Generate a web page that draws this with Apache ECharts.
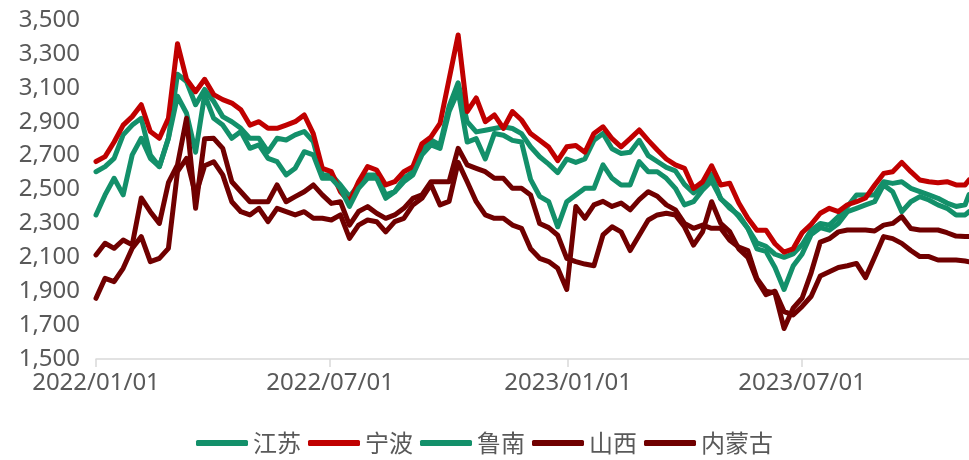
<!DOCTYPE html>
<html>
<head>
<meta charset="utf-8">
<title>价格走势</title>
<script src="https://cdn.jsdelivr.net/npm/echarts@6/dist/echarts.min.js"></script>
<style>
  html, body { margin: 0; padding: 0; background: #fff; }
  #chart { width: 969px; height: 460px; }
</style>
</head>
<body>
<div id="chart"></div>
<script>
// 周度日期（最后一个点为区间终点）
const dates = [
  '2022-01-01', '2022-01-08', '2022-01-15', '2022-01-22', '2022-01-29', '2022-02-05', '2022-02-12', '2022-02-19', '2022-02-26',
  '2022-03-05', '2022-03-12', '2022-03-19', '2022-03-26', '2022-04-02', '2022-04-09', '2022-04-16', '2022-04-23', '2022-04-30',
  '2022-05-07', '2022-05-14', '2022-05-21', '2022-05-28', '2022-06-04', '2022-06-11', '2022-06-18', '2022-06-25',
  '2022-07-02', '2022-07-09', '2022-07-16', '2022-07-23', '2022-07-30', '2022-08-06', '2022-08-13', '2022-08-20', '2022-08-27',
  '2022-09-03', '2022-09-10', '2022-09-17', '2022-09-24', '2022-10-01', '2022-10-08', '2022-10-15', '2022-10-22', '2022-10-29',
  '2022-11-05', '2022-11-12', '2022-11-19', '2022-11-26', '2022-12-03', '2022-12-10', '2022-12-17', '2022-12-24', '2022-12-31',
  '2023-01-07', '2023-01-14', '2023-01-21', '2023-01-28', '2023-02-04', '2023-02-11', '2023-02-18', '2023-02-25',
  '2023-03-04', '2023-03-11', '2023-03-18', '2023-03-25', '2023-04-01', '2023-04-08', '2023-04-15', '2023-04-22', '2023-04-29',
  '2023-05-06', '2023-05-13', '2023-05-20', '2023-05-27', '2023-06-03', '2023-06-10', '2023-06-17', '2023-06-24',
  '2023-07-01', '2023-07-08', '2023-07-15', '2023-07-22', '2023-07-29', '2023-08-05', '2023-08-12', '2023-08-19', '2023-08-26',
  '2023-09-02', '2023-09-09', '2023-09-16', '2023-09-23', '2023-09-30', '2023-10-07', '2023-10-14', '2023-10-21', '2023-10-28',
  '2023-11-04', '2023-11-07'
]

const jiangsu = [
  2605, 2635, 2684, 2822, 2880, 2920, 2704, 2635, 2802, 3180,
  3137, 3000, 3090, 3020, 2930, 2900, 2861, 2802, 2802, 2723,
  2802, 2792, 2822, 2842, 2783, 2586, 2586, 2527, 2458, 2527,
  2586, 2586, 2468, 2487, 2566, 2605, 2743, 2792, 2763, 2990,
  3130, 2900, 2840, 2850, 2860, 2870, 2860, 2830, 2752, 2693,
  2650, 2600, 2680, 2660, 2680, 2790, 2831, 2740, 2713, 2720,
  2790, 2700, 2665, 2630, 2610, 2530, 2480, 2520, 2590, 2445,
  2400, 2340, 2271, 2185, 2165, 2118, 2100, 2120, 2175, 2260,
  2300, 2290, 2340, 2400, 2468, 2468, 2468, 2546, 2536, 2546,
  2507, 2487, 2468, 2448, 2420, 2400, 2410, 2470
]

const ningbo = [
  2665, 2694, 2780, 2880, 2930, 3000, 2842, 2802, 2920, 3360,
  3150, 3077, 3150, 3060, 3030, 3010, 2970, 2880, 2900, 2861,
  2861, 2880, 2900, 2940, 2830, 2625, 2605, 2487, 2428, 2546,
  2635, 2615, 2527, 2546, 2605, 2635, 2770, 2810, 2890, 3150,
  3412, 2960, 3040, 2900, 2940, 2860, 2960, 2910, 2830, 2790,
  2750, 2670, 2752, 2760, 2720, 2831, 2870, 2800, 2752, 2800,
  2851, 2790, 2733, 2680, 2645, 2625, 2506, 2545, 2640, 2527,
  2537, 2420, 2330, 2260, 2260, 2180, 2130, 2150, 2245, 2295,
  2360, 2389, 2370, 2410, 2428, 2450, 2525, 2595, 2605, 2660,
  2605, 2556, 2546, 2540, 2546, 2527, 2527, 2556
]

const lunan = [
  2350, 2468, 2566, 2468, 2704, 2802, 2684, 2635, 2802, 3050,
  2950, 2720, 3058, 2920, 2880, 2802, 2842, 2743, 2763, 2684,
  2664, 2586, 2625, 2723, 2704, 2566, 2566, 2507, 2400, 2507,
  2566, 2566, 2448, 2487, 2546, 2586, 2704, 2763, 2743, 2960,
  3080, 2780, 2800, 2680, 2830, 2820, 2790, 2780, 2560, 2460,
  2428, 2280, 2428, 2468, 2507, 2507, 2645, 2566, 2527, 2527,
  2664, 2605, 2605, 2566, 2507, 2409, 2428, 2497, 2550, 2448,
  2389, 2350, 2271, 2150, 2135, 2040, 1910, 2048, 2120, 2235,
  2275, 2260, 2300, 2369, 2389, 2409, 2428, 2527, 2487, 2369,
  2428, 2458, 2438, 2409, 2389, 2350, 2350, 2369
]

const shanxi = [
  2114, 2183, 2153, 2202, 2173, 2450, 2369, 2300, 2540, 2645,
  2920, 2389, 2800, 2802, 2743, 2546, 2487, 2428, 2428, 2428,
  2527, 2428, 2458, 2487, 2527, 2468, 2418, 2428, 2290, 2370,
  2399, 2360, 2330, 2350, 2389, 2448, 2468, 2546, 2546, 2546,
  2743, 2645, 2625, 2605, 2566, 2566, 2507, 2507, 2468, 2300,
  2275, 2230, 2094, 2075, 2060, 2050, 2232, 2280, 2250, 2140,
  2230, 2320, 2350, 2360, 2350, 2280, 2172, 2250, 2428, 2300,
  2252, 2150, 2100, 1966, 1880, 1900, 1780, 1760, 1810, 1870,
  1990, 2015, 2040, 2050, 2064, 1980, 2100, 2222, 2210, 2182,
  2140, 2104, 2104, 2084, 2084, 2084, 2078, 2074
]

const neimenggu = [
  1858, 1976, 1956, 2035, 2153, 2222, 2074, 2094, 2153, 2605,
  2684, 2468, 2640, 2664, 2586, 2428, 2369, 2350, 2389, 2310,
  2389, 2369, 2350, 2369, 2330, 2330, 2320, 2350, 2212, 2290,
  2320, 2310, 2250, 2310, 2330, 2409, 2448, 2530, 2409, 2430,
  2660, 2546, 2428, 2350, 2330, 2330, 2290, 2271, 2150, 2094,
  2075, 2035, 1910, 2400, 2330, 2409, 2430, 2400, 2420, 2380,
  2440, 2487, 2460, 2409, 2380, 2300, 2271, 2290, 2271, 2271,
  2200, 2160, 2140, 1975, 1900, 1890, 1680, 1800, 1860, 2010,
  2190, 2210, 2250, 2261, 2261, 2261, 2255, 2290, 2300, 2340,
  2270, 2261, 2261, 2261, 2245, 2225, 2222, 2222
]

// 横轴刻度标签
const xTicks = ['2022-01-01', '2022-07-01', '2023-01-01', '2023-07-01']

const seriesNames = ['江苏', '宁波', '鲁南', '山西', '内蒙古']
const seriesValues = [jiangsu, ningbo, lunan, shanxi, neimenggu]
const seriesColors = ['#13906A', '#C00000', '#13906A', '#700000', '#700000']

const font = "'Noto Sans', 'Noto Sans CJK SC', sans-serif"
const pad = n => (n < 10 ? '0' + n : '' + n)
const ts = s => Date.parse(s) // UTC 毫秒

const myChart = echarts.init(document.getElementById('chart'))
const option = {
  animation: false,
  backgroundColor: '#ffffff',
  grid: { left: 96, right: 0, top: 20, bottom: 101 },
  legend: {
    bottom: 0,
    left: 'center',
    icon: 'roundRect',
    itemWidth: 52,
    itemHeight: 6,
    itemGap: 7,
    textStyle: { color: '#595959', fontSize: 24, fontFamily: "'Noto Sans CJK SC', sans-serif" },
    data: seriesNames
  },
  xAxis: {
    type: 'value',
    min: ts(dates[0]),
    max: ts(dates[dates.length - 1]),
    splitLine: { show: false },
    axisLine: { lineStyle: { color: '#D9D9D9', width: 1.5 } },
    axisTick: { show: true, length: 8, customValues: xTicks.map(ts), lineStyle: { color: '#D9D9D9', width: 1.5 } },
    axisLabel: {
      customValues: xTicks.map(ts),
      color: '#595959',
      fontSize: 24,
      fontFamily: font,
      margin: 12,
      formatter: function(v) {
        const d = new Date(v)
        return d.getUTCFullYear() + '/' + pad(d.getUTCMonth() + 1) + '/' + pad(d.getUTCDate())
      }
    }
  },
  yAxis: {
    type: 'value',
    min: 1500,
    max: 3500,
    interval: 200,
    splitLine: { show: false },
    axisLine: { show: false },
    axisTick: { show: false },
    axisLabel: {
      color: '#595959',
      fontSize: 24,
      fontFamily: font,
      margin: 16,
      formatter: function(v) {
        return v.toLocaleString('en-US')
      }
    }
  },
  series: seriesNames.map(function(name, i) {
    return {
      name: name,
      type: 'line',
      showSymbol: false,
      symbol: 'none',
      color: seriesColors[i],
      lineStyle: { width: 5, color: seriesColors[i], join: 'round', cap: 'round' },
      data: dates.map(function(d, j) {
        return [ts(d), seriesValues[i][j]]
      })
    }
  })
}
option && myChart.setOption(option)
</script>
</body>
</html>
